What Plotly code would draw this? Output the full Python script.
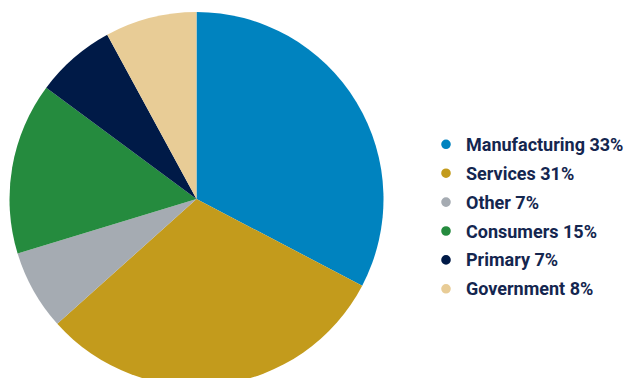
import plotly.graph_objects as go

# Sector breakdown
sectors = ["Manufacturing", "Services", "Other", "Consumers", "Primary", "Government"]
shares = [33, 31, 7, 15, 7, 8]
colors = ["#0083BF", "#C39B1C", "#A5ABB2", "#258B3E", "#001A47", "#E8CC96"]

W, H = 625, 400
text_color = "#14264F"

# Pie placement in pixels (centre and radius)
cx, cy, r = 196.5, 199.0, 187.0

# Key layout in pixels: first row centre, row step, dot centre, text start, dot radius
key_y0, key_step = 144.3, 28.9
dot_x, text_x, dot_r = 446.0, 463.5, 4.8

fig = go.Figure()

fig.add_trace(go.Pie(
    labels=sectors,
    values=shares,
    marker=dict(colors=colors, line=dict(width=0)),
    sort=False,
    direction="clockwise",
    rotation=0,
    textinfo="none",
    hoverinfo="label+percent",
    showlegend=False,
    domain=dict(
        x=[(cx - r) / W, (cx + r) / W],
        y=[1 - (cy + r) / H, 1 - (cy - r) / H],
    ),
))

# Key: coloured dot plus "Name NN%" for each sector
shapes, annotations = [], []
for i, (name, val, col) in enumerate(zip(sectors, shares, colors)):
    py = key_y0 + i * key_step
    shapes.append(dict(
        type="circle", xref="paper", yref="paper",
        x0=(dot_x - dot_r) / W, x1=(dot_x + dot_r) / W,
        y0=1 - (py + dot_r) / H, y1=1 - (py - dot_r) / H,
        fillcolor=col, line=dict(width=0),
    ))
    annotations.append(dict(
        text=f"{name} {val}%",
        xref="paper", yref="paper",
        x=text_x / W, y=1 - py / H,
        xanchor="left", yanchor="middle",
        showarrow=False,
        font=dict(family="Roboto", size=18, color=text_color, weight="bold"),
    ))

fig.update_layout(
    width=W,
    height=H,
    margin=dict(l=0, r=0, t=0, b=0),
    paper_bgcolor="white",
    plot_bgcolor="white",
    showlegend=False,
    shapes=shapes,
    annotations=annotations,
)

fig.write_html("out.html", post_script="document.body.style.overflow='hidden';")
